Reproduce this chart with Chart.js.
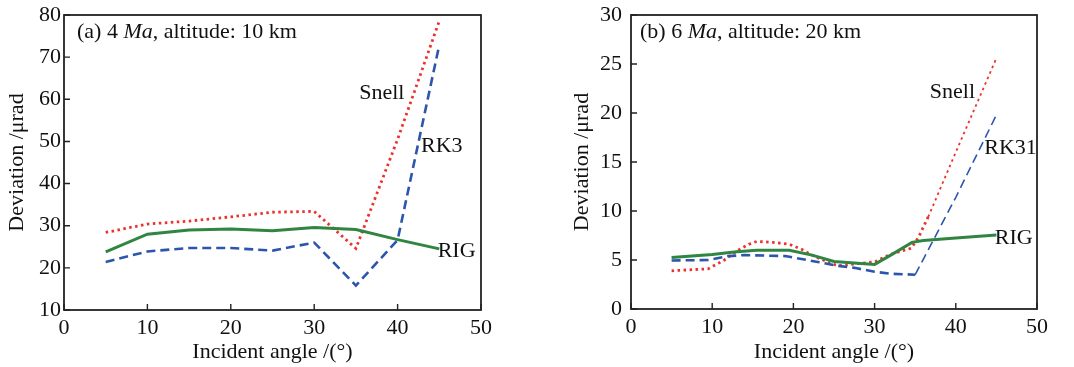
<!DOCTYPE html>
<html>
<head>
<meta charset="utf-8">
<script src="https://cdn.jsdelivr.net/npm/chart.js@4.4.0/dist/chart.umd.min.js"></script>
<style>
  body { margin: 0; background: #fff; }
  #boxA { position: absolute; left: 0; top: 0; }
  #boxB { position: absolute; left: 560px; top: 0; }
</style>
</head>
<body>
<div id="boxA"><canvas id="chartA" width="500" height="367"></canvas></div>
<div id="boxB"><canvas id="chartB" width="514" height="367"></canvas></div>
<script>
// panel (a): 4 Ma, altitude 10 km
const anglesA = [5, 10, 15, 20, 25, 30, 35, 40, 45];
const snellA = [28.4, 30.4, 31.1, 32.1, 33.2, 33.4, 24.6, 50.5, 78.6];
const rk3A = [21.4, 23.9, 24.7, 24.7, 24.1, 26.0, 15.8, 26.6, 72.9];
const rigA = [23.8, 28.0, 29.0, 29.2, 28.8, 29.6, 29.1, 26.7, 24.5];

// panel (b): 6 Ma, altitude 20 km
const snellAnglesB = [5, 9.5, 11.5, 13, 14.5, 15.5, 17.5, 19.5, 21, 22.5, 24.5, 25.5, 27.5, 30, 32, 34.5, 35.4, 36.6, 40, 45];
const snellB = [3.9, 4.1, 5.0, 5.9, 6.6, 6.9, 6.8, 6.6, 6.1, 5.4, 4.7, 4.4, 4.6, 4.8, 5.6, 6.2, 7.3, 9.4, 16.0, 25.6];
const rk31AnglesB = [5, 9.5, 12, 14, 19, 21, 23, 25.5, 27.5, 30, 32, 35, 40, 45];
const rk31B = [4.95, 5.0, 5.4, 5.5, 5.4, 5.1, 4.8, 4.4, 4.2, 3.8, 3.6, 3.5, 11.4, 19.8];
const rigAnglesB = [5, 10, 13, 15.5, 19.5, 22.3, 25, 27.5, 30, 32.2, 34.6, 36, 40, 45];
const rigB = [5.25, 5.55, 5.85, 6.0, 6.0, 5.5, 4.85, 4.7, 4.55, 5.6, 6.8, 7.0, 7.25, 7.55];

const xTicks = [0, 10, 20, 30, 40, 50];

const RED = 'rgb(236, 48, 44)';
const BLUE = 'rgb(44, 86, 172)';
const GREEN = 'rgb(48, 134, 64)';
const FONT = '"Liberation Serif", "Times New Roman", serif';

const pts = (xs, ys) => xs.map((x, i) => ({ x: x, y: ys[i] }));

// box, inward ticks, series names and panel caption
const framePlugin = {
  id: 'frame',
  afterDraw(chart, args, opts) {
    const { ctx, chartArea: a, scales: { x, y } } = chart;
    ctx.save();
    ctx.strokeStyle = '#222';
    ctx.lineWidth = 1.8;
    ctx.strokeRect(a.left, a.top, a.right - a.left, a.bottom - a.top);
    ctx.lineWidth = 1.4;
    ctx.beginPath();
    x.ticks.forEach(t => {
      const px = x.getPixelForValue(t.value);
      ctx.moveTo(px, a.bottom); ctx.lineTo(px, a.bottom - 6);
    });
    y.ticks.forEach(t => {
      const py = y.getPixelForValue(t.value);
      ctx.moveTo(a.left, py); ctx.lineTo(a.left + 6, py);
    });
    ctx.stroke();

    ctx.fillStyle = '#111';
    ctx.textBaseline = 'alphabetic';
    ctx.textAlign = 'left';
    ctx.font = '22px ' + FONT;
    opts.labels.forEach(l => {
      ctx.fillText(l.text, x.getPixelForValue(l.x), y.getPixelForValue(l.y));
    });

    let tx = a.left + opts.captionDx;
    const ty = a.top + 23;
    opts.caption.forEach(part => {
      ctx.font = (part.italic ? 'italic ' : '') + '22px ' + FONT;
      ctx.fillText(part.text, tx, ty);
      tx += ctx.measureText(part.text).width;
    });
    ctx.restore();
  }
};

function makeChart(id, cfg) {
  const ctx = document.getElementById(id).getContext('2d');
  return new Chart(ctx, {
    type: 'line',
    data: {
      datasets: [
        {
          data: cfg.rk,
          borderColor: BLUE,
          borderWidth: 2.6,
          borderDash: [9, 5],
          pointRadius: 0,
          segment: cfg.thinAfter ? { borderWidth: c => c.p0.parsed.x >= cfg.thinAfter ? 1.6 : 2.6 } : {}
        },
        {
          data: cfg.rig,
          borderColor: GREEN,
          borderWidth: 3,
          pointRadius: 0
        },
        {
          data: cfg.snell,
          borderColor: RED,
          borderWidth: 2.8,
          borderDash: [2.5, 3.5],
          pointRadius: 0,
          segment: cfg.thinAfter ? { borderWidth: c => c.p0.parsed.x >= cfg.thinAfter + 1 ? 1.8 : 2.8 } : {}
        }
      ]
    },
    options: {
      responsive: false,
      animation: false,
      layout: { padding: { top: 15, right: cfg.padRight, left: 0, bottom: 0 } },
      plugins: {
        legend: { display: false },
        tooltip: { enabled: false },
        frame: { labels: cfg.labels, caption: cfg.caption, captionDx: cfg.captionDx }
      },
      scales: {
        x: {
          type: 'linear',
          min: 0, max: 50,
          afterBuildTicks: s => { s.ticks = xTicks.map(v => ({ value: v })); },
          afterFit: s => { s.height = cfg.xHeight; s.paddingLeft = 0; s.paddingRight = 0; },
          grid: { display: false, drawTicks: false },
          border: { display: false },
          ticks: { padding: 5, color: '#111', font: { family: FONT, size: 22 } },
          title: {
            display: true, text: 'Incident angle /(°)', color: '#111',
            font: { family: FONT, size: 22 }, padding: { bottom: 2 }
          }
        },
        y: {
          min: cfg.yMin, max: cfg.yMax,
          afterBuildTicks: s => { s.ticks = cfg.yTicks.map(v => ({ value: v })); },
          afterFit: s => { s.width = cfg.yWidth; s.paddingTop = 0; s.paddingBottom = 0; },
          grid: { display: false, drawTicks: false },
          border: { display: false },
          ticks: { padding: cfg.yPad, color: '#111', font: { family: FONT, size: 22 } },
          title: {
            display: true, text: 'Deviation /μrad', color: '#111',
            font: { family: FONT, size: 22 }, padding: { top: cfg.yTitlePad }
          }
        }
      }
    },
    plugins: [framePlugin]
  });
}

makeChart('chartA', {
  snell: pts(anglesA, snellA),
  rk: pts(anglesA, rk3A),
  rig: pts(anglesA, rigA),
  yMin: 10, yMax: 80,
  yTicks: [10, 20, 30, 40, 50, 60, 70, 80],
  yWidth: 64, xHeight: 57, padRight: 19, yPad: 3, yTitlePad: 4,
  captionDx: 13,
  caption: [{ text: '(a) 4 ' }, { text: 'Ma', italic: true }, { text: ', altitude: 10 km' }],
  labels: [
    { text: 'Snell', x: 35.4, y: 60.1 },
    { text: 'RK3', x: 42.8, y: 47.5 },
    { text: 'RIG', x: 44.8, y: 22.6 }
  ]
});

makeChart('chartB', {
  snell: pts(snellAnglesB, snellB),
  rk: pts(rk31AnglesB, rk31B),
  rig: pts(rigAnglesB, rigB),
  thinAfter: 35,
  yMin: 0, yMax: 30,
  yTicks: [0, 5, 10, 15, 20, 25, 30],
  yWidth: 71, xHeight: 58, padRight: 37, yPad: 9, yTitlePad: 9,
  captionDx: 9,
  caption: [{ text: '(b) 6 ' }, { text: 'Ma', italic: true }, { text: ', altitude: 20 km' }],
  labels: [
    { text: 'Snell', x: 36.8, y: 21.5 },
    { text: 'RK31', x: 43.5, y: 15.8 },
    { text: 'RIG', x: 44.8, y: 6.6 }
  ]
});
</script>
</body>
</html>
